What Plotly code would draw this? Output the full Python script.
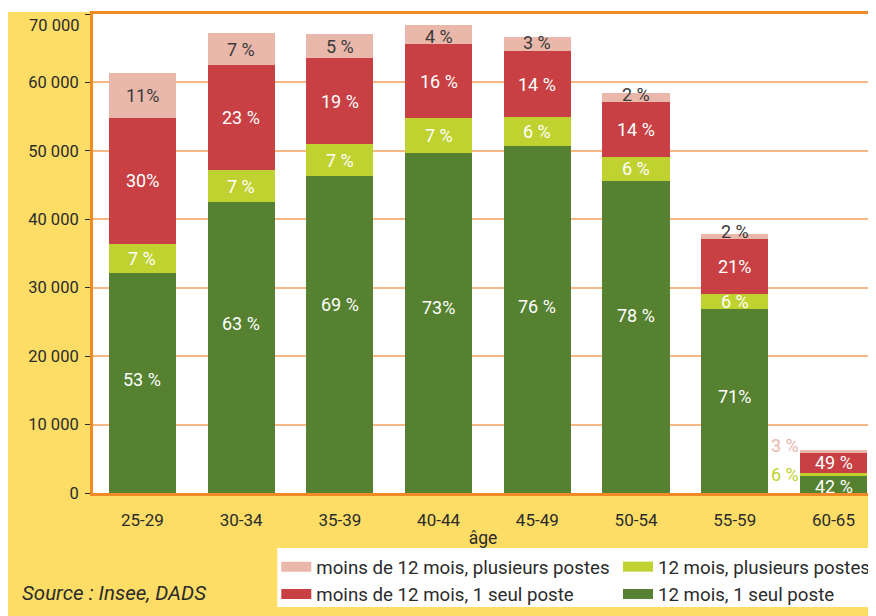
import plotly.graph_objects as go

# ---------------- data ----------------
ages = ["25-29", "30-34", "35-39", "40-44", "45-49", "50-54", "55-59", "60-65"]

# effectifs par segment
mois12_1poste = [32150, 42500, 46300, 49700, 50700, 45600, 26900, 2550]
mois12_plusieurs = [4230, 4670, 4670, 5150, 4230, 3540, 2190, 400]
moins12_1poste = [18440, 15330, 12550, 10710, 9630, 8030, 8030, 2960]
moins12_plusieurs = [6520, 4670, 3510, 2780, 2050, 1270, 730, 410]

# étiquettes de pourcentage
lab_mois12_1poste = ["53 %", "63 %", "69 %", "73%", "76 %", "78 %", "71%", "42 %"]
lab_mois12_plusieurs = ["7 %", "7 %", "7 %", "7 %", "6 %", "6 %", "6 %", "6 %"]
lab_moins12_1poste = ["30%", "23 %", "19 %", "16 %", "14 %", "14 %", "21%", "49 %"]
lab_moins12_plusieurs = ["11%", "7 %", "5 %", "4 %", "3 %", "2 %", "2 %", "3 %"]

tick_vals = [0, 10000, 20000, 30000, 40000, 50000, 60000, 70000]
tick_text = ["0", "10 000", "20 000", "30 000", "40 000", "50 000", "60 000", "70 000"]

names = ["12 mois, 1 seul poste", "12 mois, plusieurs postes",
         "moins de 12 mois, 1 seul poste", "moins de 12 mois, plusieurs postes"]
source_text = "Source : Insee, DADS"
x_title = "âge"

# ---------------- style ----------------
FONT = "Roboto, Liberation Sans, sans-serif"
C_GREEN = "#558130"
C_LIME = "#BFD230"
C_RED = "#C84043"
C_PINK = "#E9B8AB"
C_YELLOW = "#FDDD66"
C_ORANGE = "#F08A24"
C_GRID = "#F7B684"
C_TEXT = "#2B2B2B"
C_DARK_LABEL = "#3A3A3A"
TICK_FS = 16.5

# the page body adds an 8px offset; the figure fills the rest of the 876x616 window
OFF = 8
W, H = 876 - OFF, 616 - OFF
ML, MR, MT, MB = 85, 0, 6, 123
PW, PH = W - ML - MR, H - MT - MB


def px_x(sx):
    """screen x (window pixels) -> paper x"""
    return (sx - OFF - ML) / PW


def px_y(sy):
    """screen y (window pixels) -> paper y"""
    return (H - MB - (sy - OFF)) / PH


# vertical nudges of labels (pixels, positive = up)
shift_green = [4, 24, 30, 15, 13, 21, 4, -2]
shift_pink = [0, 0, 0, -2, 2, 3, 5, 6]

series = [
    (mois12_1poste, lab_mois12_1poste, C_GREEN, names[0]),
    (mois12_plusieurs, lab_mois12_plusieurs, C_LIME, names[1]),
    (moins12_1poste, lab_moins12_1poste, C_RED, names[2]),
    (moins12_plusieurs, lab_moins12_plusieurs, C_PINK, names[3]),
]

fig = go.Figure()
for vals, _, col, nm in series:
    fig.add_trace(go.Bar(x=ages, y=vals, name=nm, marker=dict(color=col, line=dict(width=0)),
                         width=0.68, showlegend=False, hoverinfo="skip"))

# legend-only entries (wide swatches), two columns as two legends
legend_of = {3: "legend", 2: "legend", 1: "legend2", 0: "legend2"}
for idx in [3, 2, 1, 0]:
    _, _, col, nm = series[idx]
    fig.add_trace(go.Scatter(x=[None], y=[None], mode="lines", name=nm, legend=legend_of[idx],
                             line=dict(color=col, width=12), showlegend=True, hoverinfo="skip"))

annotations = []
for i, cat in enumerate(ages):
    base = 0
    for s, (vals, labs, col, nm) in enumerate(series):
        v = vals[i]
        mid = base + v / 2
        base += v
        color = C_DARK_LABEL if s == 3 else "white"
        yshift = 0
        xshift = 0
        xanchor = "center"
        if s == 0:
            yshift = shift_green[i]
        if s == 3:
            yshift = shift_pink[i]
        if cat == "60-65" and s in (1, 3):
            color = C_PINK if s == 3 else C_LIME
            xanchor = "right"
            xshift = -33
        annotations.append(dict(x=cat, y=mid, text=labs[i], showarrow=False,
                                xanchor=xanchor, yanchor="middle", xshift=xshift, yshift=yshift,
                                font=dict(family=FONT, size=18, color=color)))

# top tick label sits a little below its tick (as in the original)
annotations.append(dict(x=0, xref="paper", y=tick_vals[-1], yref="y", text=tick_text[-1],
                        showarrow=False, xanchor="right", yanchor="middle", xshift=-12, yshift=-11,
                        font=dict(family=FONT, size=TICK_FS, color=C_TEXT)))

annotations.append(dict(x=px_x(20), y=px_y(593), xref="paper", yref="paper", xanchor="left",
                        yanchor="middle", showarrow=False, text=source_text,
                        font=dict(family=FONT, size=20.5, color=C_TEXT, style="italic")))

shapes = [
    # white strip above chart
    dict(type="rect", xref="paper", yref="paper", x0=px_x(-20), x1=px_x(900), y0=px_y(12), y1=px_y(-20),
         fillcolor="white", line=dict(width=0), layer="below"),
    # white legend box
    dict(type="rect", xref="paper", yref="paper", x0=px_x(278), x1=px_x(900), y0=px_y(607), y1=px_y(548),
         fillcolor="white", line=dict(width=0), layer="below"),
]

LFS = 18.7
legend_common = dict(orientation="v", xanchor="left", yanchor="top",
                     bgcolor="rgba(0,0,0,0)", font=dict(family=FONT, size=LFS, color=C_TEXT),
                     traceorder="normal", itemclick=False, itemdoubleclick=False,
                     tracegroupgap=0)

fig.update_layout(
    width=W, height=H,
    margin=dict(l=ML, r=MR, t=MT, b=MB),
    paper_bgcolor=C_YELLOW,
    plot_bgcolor="white",
    barmode="stack",
    font=dict(family=FONT, size=17, color=C_TEXT),
    annotations=annotations,
    shapes=shapes,
    legend=dict(x=px_x(277), y=px_y(548), **legend_common),
    legend2=dict(x=px_x(620), y=px_y(548), **legend_common),
)

fig.update_xaxes(
    type="category", range=[-0.5, 7.4], automargin=False,
    showline=True, linecolor=C_ORANGE, linewidth=3, mirror=True,
    ticks="", showgrid=False, ticklabelstandoff=10,
    tickfont=dict(family=FONT, size=17, color=C_TEXT),
    title=dict(text=x_title, font=dict(family=FONT, size=17.5, color=C_TEXT), standoff=3),
)
fig.update_yaxes(
    range=[0, 70000], tickvals=tick_vals, ticktext=tick_text[:-1] + [""], automargin=False,
    showline=True, linecolor=C_ORANGE, linewidth=3,
    ticks="outside", ticklen=5, tickcolor=C_TEXT, tickwidth=1, ticklabelstandoff=3,
    showgrid=True, gridcolor=C_GRID, gridwidth=1.5, zeroline=False,
    tickfont=dict(family=FONT, size=TICK_FS, color=C_TEXT),
)

fig.write_html("out.html")
